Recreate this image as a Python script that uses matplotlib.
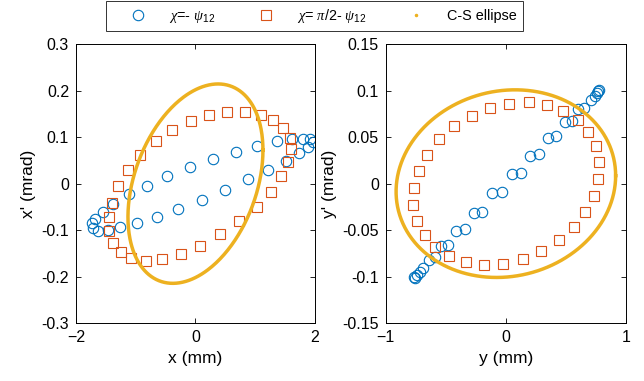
import numpy as np
import matplotlib
matplotlib.use('Agg')
import matplotlib.pyplot as plt
from matplotlib.lines import Line2D

plt.rcParams['font.family'] = ['Liberation Sans', 'DejaVu Sans']
plt.rcParams['mathtext.fontset'] = 'custom'
plt.rcParams['mathtext.rm'] = 'Liberation Sans'
plt.rcParams['mathtext.it'] = 'Liberation Serif:italic'

# horizontal plane: chi = -psi12 (circles)
x_circ = [-1.738, -1.682, -1.554, -1.375, -1.113, -0.817, -0.471, -0.092, 0.287, 0.672,
          1.029, 1.358, 1.609, 1.805, 1.916,
          1.961, 1.888, 1.738, 1.515, 1.219, 0.873, 0.494, 0.103, -0.287, -0.650,
          -0.985, -1.264, -1.459, -1.626, -1.721]
xp_circ = [-0.084, -0.075, -0.061, -0.043, -0.023, -0.005, 0.016, 0.035, 0.053, 0.068,
           0.082, 0.091, 0.096, 0.097, 0.096,
           0.089, 0.079, 0.065, 0.048, 0.029, 0.009, -0.014, -0.035, -0.055, -0.071,
           -0.084, -0.094, -0.100, -0.101, -0.095]
# horizontal plane: chi = pi/2 - psi12 (squares)
x_sq = [-1.448, -1.448, -1.392, -1.291, -1.124, -0.929, -0.667, -0.388, -0.081, 0.226,
        0.533, 0.828, 1.091, 1.303, 1.470, 1.582, 1.593, 1.554, 1.431, 1.258,
        1.024, 0.728, 0.410, 0.075, -0.248, -0.566, -0.834, -1.079, -1.252, -1.375]
xp_sq = [-0.102, -0.071, -0.041, -0.005, 0.029, 0.061, 0.091, 0.115, 0.135, 0.148,
         0.1545, 0.1545, 0.148, 0.137, 0.120, 0.099, 0.0735, 0.046, 0.016, -0.018,
         -0.050, -0.080, -0.109, -0.134, -0.152, -0.162, -0.166, -0.161, -0.148, -0.127]

# vertical plane: chi = -psi12 (circles)
y_circ = [-0.767, -0.758, -0.744, -0.717, -0.689, -0.642, -0.592, -0.536, -0.481, -0.411,
          -0.342, -0.267, -0.197, -0.114, -0.036, 0.047, 0.122, 0.200, 0.275, 0.353,
          0.417, 0.492, 0.547, 0.603, 0.650, 0.706, 0.742, 0.756, 0.769, 0.775]
yp_circ = [-0.1001, -0.101, -0.0984, -0.0948, -0.0912, -0.0823, -0.0794, -0.067, -0.066, -0.0507,
           -0.0489, -0.0314, -0.030, -0.0106, -0.0095, 0.0101, 0.0118, 0.0299, 0.0317, 0.0496,
           0.051, 0.0665, 0.0676, 0.0801, 0.0815, 0.0905, 0.0941, 0.0977, 0.0998, 0.1005]
# vertical plane: chi = pi/2 - psi12 (squares)
y_sq = [-0.764, -0.772, -0.739, -0.675, -0.589, -0.472, -0.336, -0.183, -0.022, 0.139,
        0.294, 0.439, 0.564, 0.661, 0.733, 0.769, 0.778, 0.747, 0.686, 0.597,
        0.478, 0.344, 0.192, 0.028, -0.131, -0.286, -0.433, -0.556, -0.656, -0.725]
yp_sq = [-0.0052, -0.0231, -0.0403, -0.0554, -0.0686, -0.078, -0.0848, -0.0876, -0.0862, -0.0815,
         -0.0729, -0.0611, -0.0471, -0.031, -0.0131, 0.0052, 0.0228, 0.040, 0.0554, 0.0683,
         0.0783, 0.0851, 0.0873, 0.0862, 0.0815, 0.0729, 0.0615, 0.0475, 0.0306, 0.0134]

# Courant-Snyder parameters (alpha, beta [m], emittance [mm mrad])
twiss_x = (-0.356, 5.593, 0.2283)
twiss_y = (-0.085, 9.09, 0.0919)

blue = '#0072BD'
orange = '#D95319'
yellow = '#EDB120'


def cs_ellipse(alpha, beta, emit):
    t = np.linspace(0, 2 * np.pi, 400)
    u = np.sqrt(emit * beta) * np.cos(t)
    up = -np.sqrt(emit / beta) * (alpha * np.cos(t) + np.sin(t))
    return u, up


fig = plt.figure(figsize=(6.44, 3.81), dpi=100)
ax1 = fig.add_axes([0.118, 0.152, 0.371, 0.732])
ax2 = fig.add_axes([0.599, 0.152, 0.373, 0.732])

panels = [
    (ax1, x_circ, xp_circ, x_sq, xp_sq, twiss_x, (-2, 2), (-0.3, 0.3),
     [-2, 0, 2], [-0.3, -0.2, -0.1, 0, 0.1, 0.2, 0.3], 'x (mm)', "x' (mrad)"),
    (ax2, y_circ, yp_circ, y_sq, yp_sq, twiss_y, (-1, 1), (-0.15, 0.15),
     [-1, 0, 1], [-0.15, -0.1, -0.05, 0, 0.05, 0.1, 0.15], 'y (mm)', "y' (mrad)"),
]

for ax, uc, upc, us, ups, tw, xl, yl, xt, yt, xlab, ylab in panels:
    ax.plot(uc, upc, 'o', mfc='none', mec=blue, ms=7.5, mew=0.8)
    ax.plot(us, ups, 's', mfc='none', mec=orange, ms=6.5, mew=0.8)
    eu, eup = cs_ellipse(*tw)
    ax.plot(eu, eup, '-', color=yellow, lw=2.5)
    ax.set_xlim(xl)
    ax.set_ylim(yl)
    ax.set_xticks(xt)
    ax.set_yticks(yt)
    ax.set_yticklabels(['%g' % v for v in yt])
    ax.tick_params(direction='in', top=True, right=True, length=3.5, width=0.6,
                   labelsize=11.5, pad=5)
    for s in ax.spines.values():
        s.set_linewidth(0.7)
    ax.set_xlabel(xlab, fontsize=12.5, labelpad=4)
    ax.set_ylabel(ylab, fontsize=12.5, labelpad=4)

handles = [
    Line2D([], [], ls='none', marker='o', mfc='none', mec=blue, ms=7.5, mew=0.8),
    Line2D([], [], ls='none', marker='s', mfc='none', mec=orange, ms=6.5, mew=0.8),
    Line2D([], [], ls='none', marker='.', color=yellow, ms=3),
]
labels = [r'$\chi$=- $\psi_{12}$', r'$\chi$= $\pi$/2- $\psi_{12}$', 'C-S ellipse']
leg = fig.legend(handles, labels, loc='upper center', bbox_to_anchor=(0.488, 1.0),
                 ncol=3, frameon=True, fancybox=False, edgecolor='black',
                 fontsize=10.4, borderaxespad=0.1, borderpad=0.4,
                 handlelength=3.7, columnspacing=1.6, handletextpad=0.3)
leg.get_frame().set_linewidth(0.7)

fig.savefig('out.png', dpi=100)
